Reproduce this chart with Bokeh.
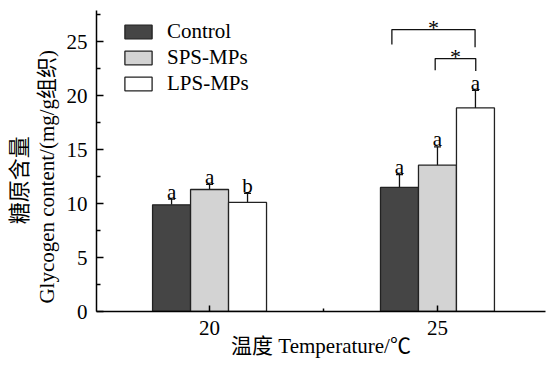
import math
from bokeh.plotting import figure
from bokeh.models import (Range1d, FixedTicker, Legend, LegendItem, Whisker, TeeHead,
                          ColumnDataSource, LinearAxis)
from bokeh.core.properties import value
from bokeh.embed import file_html
from bokeh.resources import INLINE

# ---------------- data ----------------
temperatures = ["20", "25"]
groups = ["Control", "SPS-MPs", "LPS-MPs"]
control = [9.89, 11.50]
sps = [11.31, 13.56]
lps = [10.11, 18.87]
control_err = [0.53, 1.20]
sps_err = [0.47, 1.70]
lps_err = [0.83, 1.64]
control_letters = ["a", "a"]
sps_letters = ["a", "a"]
lps_letters = ["b", "a"]
y_ticks = [0, 5, 10, 15, 20, 25]
# significance brackets at 25 ℃
bracket_x0 = [0.80, 0.99]
bracket_x1 = [1.165, 1.168]
bracket_top = [26.13, 23.44]
bracket_left_bottom = [24.75, 22.36]
bracket_right_bottom = [24.5, 22.3]
bracket_marks = ["*", "*"]

SERIF = "Liberation Serif, Noto Sans CJK SC"
FS = "21px"
NB = "\u00a0"

p = figure(width=547, height=367, x_range=Range1d(-0.496, 1.474), y_range=Range1d(0, 27.9),
           output_backend="svg", toolbar_location=None,
           min_border_left=96, min_border_right=2, min_border_top=10, min_border_bottom=56)
p.outline_line_color = None
p.xgrid.visible = False
p.ygrid.visible = False
p.background_fill_color = "white"

fills = ["#454545", "#d3d3d3", "#ffffff"]
values = [control, sps, lps]
errs = [control_err, sps_err, lps_err]
letters = [control_letters, sps_letters, lps_letters]
bw = 1 / 6

renderers = []
for i, (vals, er, let, fc) in enumerate(zip(values, errs, letters, fills)):
    xs = [j + (i - 1) * bw for j in range(len(temperatures))]
    src = ColumnDataSource(dict(x=xs, top=vals, up=[v + e for v, e in zip(vals, er)],
                                ty=[v + e + 0.7 for v, e in zip(vals, er)], lab=let))
    r = p.vbar(x="x", top="top", width=bw, bottom=0, source=src, fill_color=fc,
               line_color="#222222", line_width=1.3)
    renderers.append(r)
    w = Whisker(base="x", lower="top", upper="up", source=src, dimension="height",
                line_color="#111111", line_width=1.3,
                upper_head=TeeHead(size=7, line_color="#111111", line_width=1.3), lower_head=None)
    p.add_layout(w)
    p.text(x="x", y="ty", text="lab", source=src, text_align="center", text_baseline="alphabetic",
           text_font=value(SERIF), text_font_size=FS, text_color="black")

# brackets
xs_br = [[a, a, b, b] for a, b in zip(bracket_x0, bracket_x1)]
ys_br = [[lb, t, t, rb] for lb, t, rb in zip(bracket_left_bottom, bracket_top, bracket_right_bottom)]
p.multi_line(xs=xs_br, ys=ys_br, line_color="#111111", line_width=1.3)
star_x = [(a + b) / 2 for a, b in zip(bracket_x0, bracket_x1)]
star_y = [t + 0.2 for t in bracket_top]
p.text(x=star_x, y=star_y, text=bracket_marks, text_align="center", text_baseline="alphabetic",
       text_font=value(SERIF), text_font_size="22px", text_color="black")

# axes
p.xaxis.ticker = FixedTicker(ticks=list(range(len(temperatures))), minor_ticks=[0.5])
p.xaxis.major_label_overrides = {i: t for i, t in enumerate(temperatures)}
p.yaxis.ticker = FixedTicker(ticks=y_ticks, minor_ticks=[t + 2.5 for t in y_ticks])
for ax in (p.xaxis, p.yaxis):
    ax.axis_line_color = "black"
    ax.axis_line_width = 1.5
    ax.major_tick_line_color = "black"
    ax.major_tick_line_width = 1.5
    ax.minor_tick_line_color = "black"
    ax.minor_tick_line_width = 1.5
    ax.major_tick_out = 0
    ax.minor_tick_out = 0
    ax.major_label_text_font = SERIF
    ax.major_label_text_font_size = FS
    ax.major_label_text_color = "black"
p.xaxis.major_tick_in = 6
p.xaxis.minor_tick_in = 3
p.yaxis.major_tick_in = 7
p.yaxis.minor_tick_in = 4
p.xaxis.major_label_standoff = 9
p.yaxis.major_label_standoff = 9
p.xaxis.axis_label = "温度 Temperature/℃"
p.xaxis.axis_label_text_font = SERIF
p.xaxis.axis_label_text_font_size = FS
p.xaxis.axis_label_text_font_style = "normal"
p.xaxis.axis_label_text_color = "black"
p.xaxis.axis_label_standoff = -4


def label_axis(text, size, standoff):
    ax = LinearAxis(ticker=FixedTicker(ticks=[]), axis_label=text,
                    axis_line_color=None, major_tick_line_color=None, minor_tick_line_color=None,
                    major_tick_in=0, major_tick_out=0, minor_tick_in=0, minor_tick_out=0,
                    axis_label_text_font=SERIF, axis_label_text_font_size=size,
                    axis_label_text_font_style="normal", axis_label_text_color="black",
                    axis_label_standoff=standoff)
    p.add_layout(ax, "left")


# trailing no-break spaces push the rotated labels slightly below the frame centre, as in the original
label_axis("Glycogen content/(mg/g组织)" + NB * 6, FS, 5)
label_axis("糖原含量" + NB * 7, "22px", 0)

legend = Legend(items=[LegendItem(label=g, renderers=[r]) for g, r in zip(groups, renderers)],
                location=(25, 215), glyph_width=34, glyph_height=17, label_height=17,
                label_text_font=SERIF, label_text_font_size=FS, label_standoff=12,
                label_text_color="black",
                spacing=1, padding=5, margin=0, background_fill_alpha=0, border_line_color=None)
p.add_layout(legend)

open("out.html", "w").write(file_html(p, INLINE))
